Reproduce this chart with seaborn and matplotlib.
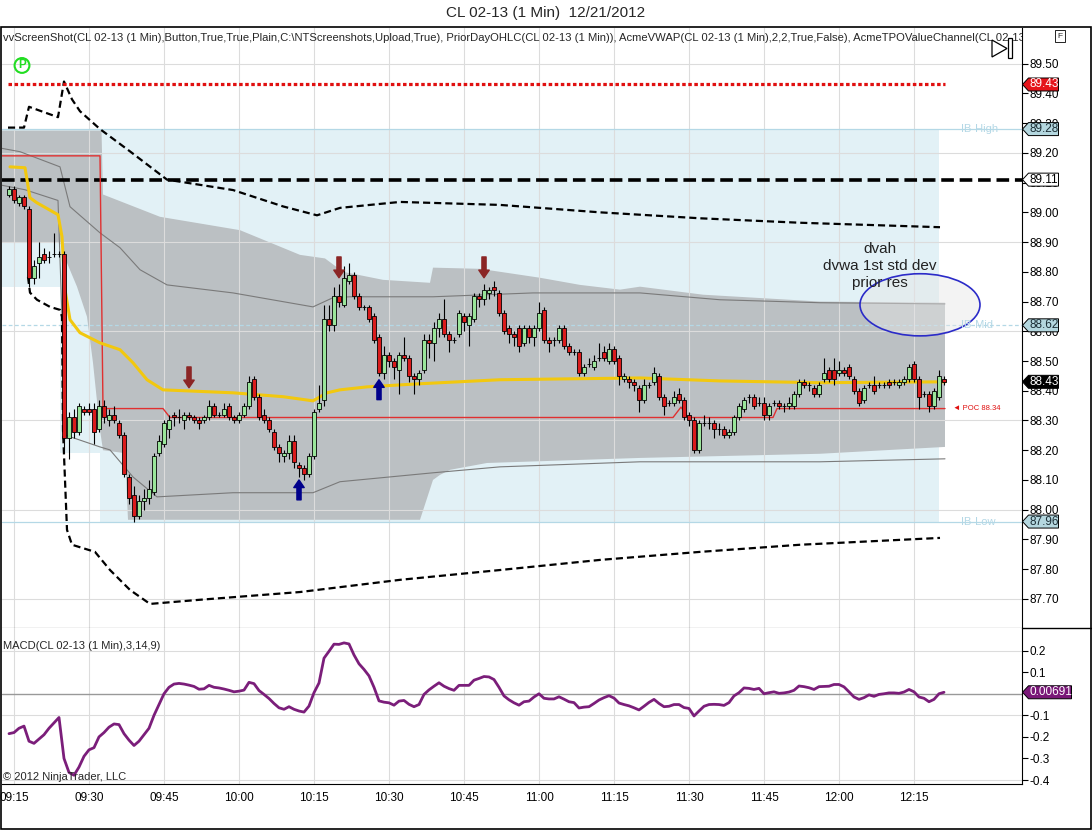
import numpy as np
import pandas as pd
import matplotlib
matplotlib.use("Agg")
import matplotlib.pyplot as plt
import seaborn as sns
from matplotlib.patches import Ellipse, Polygon, Rectangle
from matplotlib.lines import Line2D
from matplotlib.transforms import IdentityTransform

sns.set_style("white")
plt.rcParams["font.family"] = ["Liberation Sans", "DejaVu Sans"]

# 1 minute bars, minute 0 = 09:15
minutes = np.arange(-1, 187)

opens = [89.06, 89.08, 89.03, 89.05, 89.01, 88.78, 88.83, 88.86, 88.85, 88.86,
         88.86, 88.86, 88.24, 88.31, 88.26, 88.34, 88.34, 88.34, 88.27, 88.35,
         88.30, 88.32, 88.29, 88.25, 88.11, 88.05, 87.98, 88.03, 88.04, 88.06,
         88.19, 88.22, 88.27, 88.32, 88.31, 88.30, 88.32, 88.31, 88.30, 88.30,
         88.31, 88.35, 88.32, 88.32, 88.35, 88.31, 88.30, 88.32, 88.35, 88.44,
         88.38, 88.32, 88.30, 88.26, 88.21, 88.18, 88.19, 88.23, 88.15, 88.14,
         88.12, 88.18, 88.34, 88.37, 88.64, 88.62, 88.72, 88.69, 88.77, 88.79,
         88.72, 88.68, 88.68, 88.65, 88.58, 88.46, 88.52, 88.50, 88.47, 88.52,
         88.51, 88.45, 88.44, 88.47, 88.57, 88.56, 88.61, 88.64, 88.59, 88.57,
         88.59, 88.65, 88.62, 88.64, 88.72, 88.71, 88.73, 88.75, 88.73, 88.66,
         88.61, 88.59, 88.61, 88.56, 88.61, 88.58, 88.61, 88.67, 88.57, 88.57,
         88.57, 88.61, 88.55, 88.53, 88.53, 88.46, 88.49, 88.48, 88.51, 88.53,
         88.50, 88.54, 88.51, 88.44, 88.44, 88.43, 88.41, 88.37, 88.42, 88.43,
         88.45, 88.38, 88.36, 88.36, 88.39, 88.37, 88.32, 88.30, 88.20, 88.29,
         88.29, 88.29, 88.27, 88.27, 88.25, 88.26, 88.31, 88.34, 88.38, 88.38,
         88.36, 88.36, 88.32, 88.36, 88.36, 88.35, 88.35, 88.35, 88.39, 88.43,
         88.42, 88.41, 88.39, 88.44, 88.47, 88.47, 88.46, 88.47, 88.48, 88.44,
         88.40, 88.37, 88.42, 88.42, 88.42, 88.42, 88.43, 88.43, 88.42, 88.43,
         88.44, 88.49, 88.44, 88.39, 88.39, 88.35, 88.38, 88.44]
highs = [89.09, 89.09, 89.06, 89.06, 89.02, 88.84, 88.90, 88.88, 88.87, 88.93,
         88.87, 88.87, 88.33, 88.34, 88.36, 88.35, 88.36, 88.36, 88.37, 88.37,
         88.34, 88.35, 88.30, 88.26, 88.12, 88.08, 88.05, 88.07, 88.10, 88.19,
         88.25, 88.30, 88.32, 88.33, 88.34, 88.33, 88.33, 88.32, 88.31, 88.32,
         88.37, 88.36, 88.33, 88.36, 88.36, 88.32, 88.33, 88.36, 88.45, 88.45,
         88.39, 88.34, 88.31, 88.27, 88.22, 88.20, 88.25, 88.25, 88.16, 88.15,
         88.19, 88.34, 88.42, 88.69, 88.69, 88.75, 88.76, 88.82, 88.83, 88.80,
         88.73, 88.69, 88.69, 88.66, 88.59, 88.55, 88.53, 88.51, 88.53, 88.58,
         88.52, 88.46, 88.47, 88.59, 88.59, 88.63, 88.66, 88.71, 88.60, 88.58,
         88.67, 88.66, 88.66, 88.73, 88.73, 88.76, 88.75, 88.77, 88.74, 88.67,
         88.62, 88.60, 88.62, 88.62, 88.62, 88.62, 88.70, 88.68, 88.58, 88.58,
         88.62, 88.62, 88.56, 88.54, 88.54, 88.49, 88.51, 88.52, 88.56, 88.55,
         88.56, 88.55, 88.52, 88.46, 88.45, 88.44, 88.42, 88.44, 88.43, 88.48,
         88.46, 88.39, 88.37, 88.40, 88.41, 88.38, 88.33, 88.31, 88.30, 88.32,
         88.31, 88.30, 88.29, 88.28, 88.27, 88.32, 88.36, 88.38, 88.39, 88.39,
         88.38, 88.38, 88.36, 88.37, 88.37, 88.36, 88.38, 88.40, 88.44, 88.44,
         88.43, 88.42, 88.43, 88.51, 88.48, 88.51, 88.50, 88.48, 88.49, 88.45,
         88.41, 88.42, 88.43, 88.45, 88.43, 88.43, 88.44, 88.44, 88.44, 88.45,
         88.49, 88.50, 88.45, 88.40, 88.40, 88.41, 88.47, 88.45]
lows = [89.05, 89.03, 89.02, 89.01, 88.75, 88.76, 88.78, 88.83, 88.83, 88.85,
        88.85, 88.19, 88.17, 88.24, 88.25, 88.32, 88.32, 88.22, 88.26, 88.29,
        88.28, 88.29, 88.24, 88.11, 88.02, 87.96, 87.97, 88.00, 88.02, 88.05,
        88.18, 88.21, 88.24, 88.28, 88.29, 88.27, 88.30, 88.29, 88.27, 88.29,
        88.30, 88.31, 88.31, 88.31, 88.30, 88.29, 88.29, 88.31, 88.34, 88.37,
        88.30, 88.29, 88.26, 88.20, 88.16, 88.16, 88.17, 88.14, 88.11, 88.10,
        88.11, 88.17, 88.33, 88.35, 88.60, 88.60, 88.68, 88.68, 88.76, 88.71,
        88.67, 88.67, 88.63, 88.56, 88.45, 88.44, 88.48, 88.44, 88.39, 88.50,
        88.43, 88.39, 88.42, 88.46, 88.51, 88.50, 88.58, 88.58, 88.53, 88.56,
        88.58, 88.60, 88.55, 88.63, 88.68, 88.69, 88.71, 88.72, 88.65, 88.59,
        88.56, 88.55, 88.53, 88.55, 88.56, 88.55, 88.60, 88.56, 88.53, 88.55,
        88.56, 88.54, 88.52, 88.52, 88.45, 88.45, 88.48, 88.47, 88.50, 88.50,
        88.49, 88.49, 88.42, 88.43, 88.41, 88.40, 88.33, 88.36, 88.41, 88.42,
        88.37, 88.32, 88.35, 88.35, 88.36, 88.30, 88.28, 88.19, 88.19, 88.28,
        88.27, 88.24, 88.25, 88.24, 88.24, 88.25, 88.30, 88.33, 88.36, 88.34,
        88.35, 88.30, 88.30, 88.35, 88.34, 88.33, 88.34, 88.34, 88.38, 88.41,
        88.40, 88.38, 88.38, 88.43, 88.43, 88.42, 88.45, 88.45, 88.44, 88.39,
        88.35, 88.36, 88.41, 88.39, 88.41, 88.41, 88.41, 88.42, 88.41, 88.42,
        88.43, 88.43, 88.34, 88.38, 88.33, 88.34, 88.37, 88.42]
closes = [89.08, 89.04, 89.05, 89.02, 88.78, 88.82, 88.85, 88.84, 88.85, 88.86,
          88.86, 88.24, 88.31, 88.26, 88.35, 88.33, 88.33, 88.26, 88.35, 88.31,
          88.32, 88.30, 88.25, 88.12, 88.04, 87.98, 88.03, 88.04, 88.07, 88.18,
          88.23, 88.29, 88.30, 88.31, 88.31, 88.32, 88.31, 88.30, 88.29, 88.31,
          88.35, 88.32, 88.32, 88.34, 88.31, 88.30, 88.32, 88.35, 88.43, 88.38,
          88.31, 88.30, 88.27, 88.21, 88.19, 88.19, 88.23, 88.16, 88.14, 88.12,
          88.18, 88.33, 88.36, 88.64, 88.62, 88.72, 88.70, 88.78, 88.79, 88.72,
          88.68, 88.68, 88.64, 88.57, 88.46, 88.52, 88.50, 88.48, 88.52, 88.51,
          88.45, 88.44, 88.46, 88.57, 88.56, 88.61, 88.64, 88.59, 88.57, 88.57,
          88.66, 88.63, 88.65, 88.72, 88.71, 88.74, 88.74, 88.74, 88.66, 88.60,
          88.59, 88.58, 88.55, 88.61, 88.58, 88.61, 88.66, 88.57, 88.56, 88.57,
          88.61, 88.55, 88.53, 88.53, 88.46, 88.48, 88.49, 88.50, 88.51, 88.51,
          88.54, 88.50, 88.45, 88.45, 88.43, 88.42, 88.37, 88.42, 88.42, 88.46,
          88.38, 88.35, 88.36, 88.38, 88.37, 88.31, 88.30, 88.20, 88.29, 88.29,
          88.29, 88.27, 88.27, 88.25, 88.26, 88.31, 88.35, 88.37, 88.38, 88.35,
          88.36, 88.32, 88.35, 88.36, 88.35, 88.35, 88.36, 88.39, 88.43, 88.42,
          88.42, 88.39, 88.42, 88.46, 88.44, 88.44, 88.47, 88.46, 88.45, 88.40,
          88.36, 88.41, 88.42, 88.40, 88.42, 88.42, 88.42, 88.43, 88.43, 88.44,
          88.48, 88.44, 88.38, 88.39, 88.35, 88.40, 88.45, 88.43]

macd = [-0.185, -0.18, -0.16, -0.15, -0.22, -0.23, -0.21, -0.19, -0.16, -0.135,
        -0.11, -0.30, -0.365, -0.378, -0.34, -0.29, -0.26, -0.25, -0.20, -0.18,
        -0.155, -0.14, -0.143, -0.185, -0.215, -0.24, -0.22, -0.19, -0.16, -0.10,
        -0.05, 0.0, 0.03, 0.045, 0.048, 0.045, 0.04, 0.034, 0.021, 0.023,
        0.039, 0.03, 0.027, 0.022, 0.016, 0.009, 0.012, 0.017, 0.053, 0.047,
        0.015, -0.003, -0.022, -0.045, -0.065, -0.072, -0.06, -0.072, -0.08, -0.085,
        -0.057, 0.005, 0.05, 0.165, 0.197, 0.23, 0.229, 0.236, 0.231, 0.18,
        0.139, 0.113, 0.083, 0.03, -0.033, -0.039, -0.042, -0.053, -0.034, -0.031,
        -0.049, -0.06, -0.05, -0.003, 0.018, 0.035, 0.051, 0.035, 0.024, 0.016,
        0.039, 0.039, 0.039, 0.063, 0.071, 0.08, 0.078, 0.066, 0.03, -0.01,
        -0.028, -0.042, -0.053, -0.037, -0.034, -0.015, 0.0, -0.021, -0.024, -0.024,
        -0.014, -0.025, -0.037, -0.041, -0.066, -0.062, -0.06, -0.045, -0.029, -0.018,
        -0.009, -0.02, -0.043, -0.05, -0.056, -0.065, -0.075, -0.058, -0.04, -0.026,
        -0.045, -0.06, -0.058, -0.05, -0.05, -0.064, -0.068, -0.103, -0.08, -0.058,
        -0.05, -0.049, -0.05, -0.054, -0.041, -0.01, 0.005, 0.027, 0.025, 0.02,
        0.025, 0.0, 0.005, 0.009, 0.002, 0.004, 0.008, 0.016, 0.036, 0.033,
        0.028, 0.02, 0.033, 0.034, 0.035, 0.043, 0.043, 0.032, 0.009, -0.015,
        -0.026, -0.018, -0.005, -0.012, -0.003, 0.0, 0.004, 0.004, 0.002, 0.008,
        0.02, 0.009, -0.015, -0.021, -0.037, -0.026, 0.0, 0.0069]

tick_minutes = [0, 15, 30, 45, 60, 75, 90, 105, 120, 135, 150, 165, 180]
tick_labels = ["09:15", "09:30", "09:45", "10:00", "10:15", "10:30", "10:45",
               "11:00", "11:15", "11:30", "11:45", "12:00", "12:15"]

# indicator lines (minute, price vertices)
vwap_x = [-0.8, 2.2, 3.2, 4.6, 8.8, 9.6, 10.2, 11.2, 13.2, 17.2, 21.2, 23.8, 26.6,
          29.8, 43.8, 53.8, 59.8, 62.6, 65.2, 70.6, 80.6, 97.2, 125.2, 141.2, 161.2, 186.2]
vwap_y = [89.153, 89.15, 89.049, 89.032, 88.992, 88.918, 88.74, 88.639, 88.595, 88.561,
          88.538, 88.494, 88.437, 88.403, 88.393, 88.38, 88.366, 88.393, 88.403, 88.413,
          88.423, 88.437, 88.443, 88.433, 88.427, 88.43]

sd2_up_x = [-1.2, 2.0, 3.0, 8.8, 10.0, 11.6, 13.2, 17.2, 23.2, 30.6, 43.8, 53.8, 60.6,
            65.2, 77.2, 97.2, 117.2, 137.2, 157.2, 185.2]
sd2_up_y = [89.285, 89.285, 89.355, 89.32, 89.44, 89.38, 89.34, 89.28, 89.205, 89.11,
            89.075, 89.02, 88.99, 89.015, 89.035, 89.025, 89.0, 88.98, 88.965, 88.95]
sd2_dn_x = [2.8, 3.2, 4.6, 7.2, 9.2, 9.6, 9.8, 10.6, 11.6, 16.2, 19.2, 23.2, 27.2, 37.2,
            57.2, 77.2, 97.2, 117.2, 137.2, 157.2, 185.2]
sd2_dn_y = [88.783, 88.73, 88.706, 88.682, 88.672, 88.649, 88.268, 87.932, 87.882, 87.858,
            87.797, 87.73, 87.683, 87.697, 87.723, 87.764, 87.797, 87.831, 87.858, 87.882, 87.905]

sd1_up_x = [-3, 1.2, 9.2, 11.2, 17.2, 21.2, 25.2, 30.6, 43.8, 59.8, 63.8, 67.2, 83.8,
            103.8, 125.2, 141.2, 161.2, 186.2]
sd1_up_y = [89.217, 89.204, 89.153, 89.019, 88.931, 88.881, 88.807, 88.756, 88.729, 88.682,
            88.713, 88.716, 88.716, 88.729, 88.729, 88.706, 88.696, 88.692]
sd1_dn_x = [-3, 2.2, 8.8, 10.4, 17.2, 19.2, 23.8, 28.6, 43.8, 59.8, 65.2, 83.8, 97.2,
            125.2, 161.2, 186.2]
sd1_dn_y = [89.093, 89.076, 89.04, 88.25, 88.211, 88.201, 88.11, 88.043, 88.057, 88.057,
            88.094, 88.124, 88.144, 88.161, 88.161, 88.171]

tpo_top_x = [-3, 17.5, 17.8, 29.2, 45.2, 57.2, 62.2, 65.8, 73.8, 83.2, 83.8, 93.2, 105.2,
             113.2, 121.2, 125.2, 137.8, 161.2, 186.2]
tpo_top_y = [89.275, 89.275, 89.06, 88.985, 88.94, 88.857, 88.845, 88.80, 88.773, 88.763,
             88.814, 88.81, 88.78, 88.756, 88.74, 88.75, 88.723, 88.70, 88.696]
tpo_bot_x = [-3, 9.2, 9.6, 10.6, 12.6, 14.6, 15.8, 17.2, 17.8, 22.2, 22.8, 81.2, 83.8,
             85.2, 87.2, 94.6, 125.2, 161.2, 186.2]
tpo_bot_y = [88.898, 88.898, 88.884, 88.83, 88.75, 88.649, 88.494, 88.268, 88.20, 88.19,
             87.966, 87.966, 88.10, 88.117, 88.134, 88.157, 88.174, 88.188, 88.211]

ib_high, ib_mid, ib_low = 89.28, 88.62, 87.96
ib_x = [-3, 9.2, 9.2, 17.2, 17.2, 185.0]
ib_bottom = [88.75, 88.75, 88.19, 88.19, 87.96, 87.96]

poc_x = [-3, 17.2, 17.8, 29.8, 31.2, 131.8, 133.4, 134.8, 151.8, 152.6, 186.2]
poc_y = [89.19, 89.19, 88.34, 88.34, 88.31, 88.31, 88.345, 88.31, 88.31, 88.34, 88.34]

prior_high = 89.43
prior_close = 89.11

arrow_x = [35, 65, 94, 57, 73]
arrow_tip = [88.41, 88.78, 88.78, 88.10, 88.437]
arrow_tail = [88.48, 88.85, 88.85, 88.033, 88.37]
arrow_col = ["#8B2525", "#8B2525", "#8B2525", "#00008B", "#00008B"]

price_ticks = [87.7, 87.8, 87.9, 88.0, 88.1, 88.2, 88.3, 88.4, 88.5, 88.6, 88.7,
               88.8, 88.9, 89.0, 89.1, 89.2, 89.3, 89.4, 89.5]
price_grid = [87.7, 88.0, 88.3, 88.6, 88.9, 89.2, 89.5]
macd_ticks = [0.2, 0.1, -0.1, -0.2, -0.3, -0.4]
macd_grid = [0.2, -0.1, -0.4]

# ---- figure ----
W, H = 1092, 830
fig = plt.figure(figsize=(W / 100, H / 100), dpi=100)
ax = fig.add_axes([2 / W, (H - 628) / H, 1019.5 / W, 600 / H])
ax2 = fig.add_axes([2 / W, (H - 784) / H, 1019.5 / W, 156 / H], sharex=ax)
ax.set_xlim(-2.4, 201.5)
ax.set_ylim(87.602, 89.62)
ax2.set_ylim(-0.4185, 0.305)

# background areas
ax.fill_between(ib_x, ib_bottom, ib_high, color="#E2F1F6", lw=0, zorder=0.5)
ax.fill(tpo_top_x + tpo_bot_x[::-1], tpo_top_y + tpo_bot_y[::-1],
        color="#BBC0C3", lw=0, zorder=0.8)

for v in price_grid:
    ax.axhline(v, color="#DCDCDC", lw=0.8, zorder=1)
for m in tick_minutes:
    ax.axvline(m, color="#DCDCDC", lw=0.8, zorder=1)
    ax2.axvline(m, color="#DCDCDC", lw=0.8, zorder=1)
for v in macd_grid:
    ax2.axhline(v, color="#DCDCDC", lw=0.8, zorder=1)
ax2.axhline(0, color="#999999", lw=1.0, zorder=1.5)

ax.axhline(ib_high, color="#B4D8E6", lw=0.9, zorder=1.2)
ax.axhline(ib_low, color="#B4D8E6", lw=0.9, zorder=1.2)
ax.axhline(ib_mid, color="#B4D8E6", lw=0.9, ls=(0, (3, 2)), zorder=1.2)

# vwap bands
sns.lineplot(x=sd1_up_x, y=sd1_up_y, ax=ax, color="#7A7A7A", linewidth=0.8,
             sort=False, estimator=None, zorder=2)
sns.lineplot(x=sd1_dn_x, y=sd1_dn_y, ax=ax, color="#7A7A7A", linewidth=0.8,
             sort=False, estimator=None, zorder=2)
ax.plot(sd2_up_x, sd2_up_y, color="black", lw=1.6, ls=(0, (3.2, 1.8)), zorder=2.2)
ax.plot(sd2_dn_x, sd2_dn_y, color="black", lw=1.6, ls=(0, (3.2, 1.8)), zorder=2.2)
ax.axhline(prior_close, color="black", lw=2.6, ls=(0, (3.5, 1.6)), zorder=2.2)
ax.plot([-1.2, 186.2], [prior_high, prior_high], color="#E01010", lw=2.3,
        ls=(0, (1.1, 0.8)), zorder=2.5)
ax.plot(poc_x, poc_y, color="#E03030", lw=1.0, zorder=2.5)
sns.lineplot(x=vwap_x, y=vwap_y, ax=ax, color="#F2C80F", linewidth=2.2,
             sort=False, estimator=None, zorder=3)

# candles
o = np.array(opens)
c = np.array(closes)
body_col = np.where(c > o, "#9AE59A", "#DA1C1C")
ax.vlines(minutes, lows, highs, color="black", lw=0.8, zorder=4)
ax.bar(minutes, np.abs(c - o), bottom=np.minimum(o, c), width=0.74, color=body_col,
       edgecolor="black", linewidth=0.6, zorder=5)

for x, tip, tail, col in zip(arrow_x, arrow_tip, arrow_tail, arrow_col):
    ax.annotate("", xy=(x, tip), xytext=(x, tail),
                arrowprops=dict(facecolor=col, edgecolor=col, width=3.0,
                                headwidth=7.5, headlength=5.5, shrink=0), zorder=6)

ax.add_patch(Ellipse((181.2, 88.689), width=24, height=0.209, facecolor=(0.9, 0.9, 0.9, 0.45),
                     edgecolor="#2B2BC8", lw=1.2, zorder=7))
ax.text(173.2, 88.82, "dvah\ndvwa 1st std dev\nprior res", ha="center", va="center",
        fontsize=11, color="#222222", linespacing=1.3, zorder=8)

ax.text(189.4, ib_high, "IB-High", color="#B4D8E6", fontsize=8, va="center", zorder=8)
ax.text(189.4, ib_mid, "IB-Mid", color="#B4D8E6", fontsize=8, va="center", zorder=8)
ax.text(189.4, ib_low, "IB-Low", color="#B4D8E6", fontsize=8, va="center", zorder=8)
ax.text(187.8, 88.34, "\u25c4 POC 88.34", color="#E01010", fontsize=5.5, va="center", zorder=8)
ax.text(1.6, 89.494, "P", color="#22DD22", fontsize=8.5, fontweight="bold", ha="center",
        va="center", bbox=dict(boxstyle="circle,pad=0.12", fc="none", ec="#22DD22", lw=1.5),
        zorder=8)

# indicator list, cut off at the price axis like the original
ax.text(0.001, 0.992, "vvScreenShot(CL 02-13 (1 Min),Button,True,True,Plain,C:\\NTScreenshots,"
        "Upload,True), PriorDayOHLC(CL 02-13 (1 Min)), AcmeVWAP(CL 02-13 (1 Min),2,2,True,False), "
        "AcmeTPOValueChannel(CL 02-13", transform=ax.transAxes, fontsize=8.1,
        va="top", ha="left", clip_on=True, zorder=9)

# macd
macd_df = pd.DataFrame({"minute": minutes, "macd": macd})
sns.lineplot(data=macd_df, x="minute", y="macd", ax=ax2, color="#7B1E7A", linewidth=2,
             zorder=3)
ax2.text(0.001, 0.885, "MACD(CL 02-13 (1 Min),3,14,9)", transform=ax2.transAxes,
         fontsize=8, va="center")
ax2.text(0.001, 0.045, "\u00a9 2012 NinjaTrader, LLC", transform=ax2.transAxes,
         fontsize=8, va="center")

# axes styling
for a in (ax, ax2):
    a.set_xlabel("")
    a.set_ylabel("")
    a.spines["left"].set_visible(False)
    a.spines["top"].set_visible(False)
    a.spines["right"].set_color("black")
    a.spines["bottom"].set_color("black")
    a.yaxis.tick_right()
    a.tick_params(axis="y", right=True, left=False, length=4, width=0.8,
                  labelsize=8.5, pad=2, colors="black")

ax.set_yticks(price_ticks)
ax.set_yticklabels([f"{v:.2f}" for v in price_ticks])
ax.tick_params(axis="x", bottom=False, labelbottom=False)
ax2.set_yticks(macd_ticks)
ax2.set_yticklabels([f"{v:.1f}" for v in macd_ticks])
ax2.set_xticks(tick_minutes)
ax2.set_xticklabels(tick_labels)
ax2.tick_params(axis="x", bottom=False, length=0, labelsize=8.5, pad=5.5, colors="black")
ax.set_xlim(-2.4, 201.5)


def price_tag(axis, value, label, face, text_color, width=37):
    x0, y0 = axis.transData.transform((axis.get_xlim()[1], value))
    half = 6.5
    verts = [(x0 + 1, y0), (x0 + 7, y0 + half), (x0 + width, y0 + half),
             (x0 + width, y0 - half), (x0 + 7, y0 - half)]
    fig.add_artist(Polygon(verts, closed=True, transform=IdentityTransform(),
                           facecolor=face, edgecolor="black", linewidth=0.7, zorder=5))
    fig.text((x0 + 7.5) / W, y0 / H, label, color=text_color, fontsize=8.5,
             ha="left", va="center", zorder=6)


price_tag(ax, prior_high, "89.43", "#E5141B", "white")
price_tag(ax, ib_high, "89.28", "#B4D7DF", "#1C2E36")
price_tag(ax, prior_close, "89.11", "white", "black")
price_tag(ax, ib_mid, "88.62", "#B4D7DF", "#1C2E36")
price_tag(ax, closes[-1], f"{closes[-1]:.2f}", "black", "white")
price_tag(ax, ib_low, "87.96", "#B4D7DF", "#1C2E36")
price_tag(ax2, macd[-1], "0.00691", "#7A1878", "white", width=50)

# frame, separator and toolbar bits
fig.add_artist(Rectangle((0.5 / W, 1 / H), (W - 1.5) / W, (H - 28) / H, fill=False,
                         ec="black", lw=1.2, transform=fig.transFigure))
fig.add_artist(Line2D([1021.5 / W, 1], [(H - 628) / H] * 2, color="black", lw=1,
                      transform=fig.transFigure))
fig.add_artist(Polygon([(992, H - 40), (992, H - 57), (1007, H - 48.5)], closed=True,
                       fill=False, ec="black", lw=0.9, transform=IdentityTransform()))
fig.add_artist(Rectangle((1008, H - 58), 4, 20, fill=False, ec="black", lw=0.9,
                         transform=IdentityTransform()))
fig.text(1060 / W, (H - 36) / H, "F", fontsize=6, ha="center", va="center",
         bbox=dict(boxstyle="square,pad=0.25", fc="white", ec="black", lw=0.6))
fig.text(0.5, (H - 13) / H, "CL 02-13 (1 Min)  12/21/2012", ha="center", va="center",
         fontsize=11)

fig.savefig("out.png", dpi=100)
